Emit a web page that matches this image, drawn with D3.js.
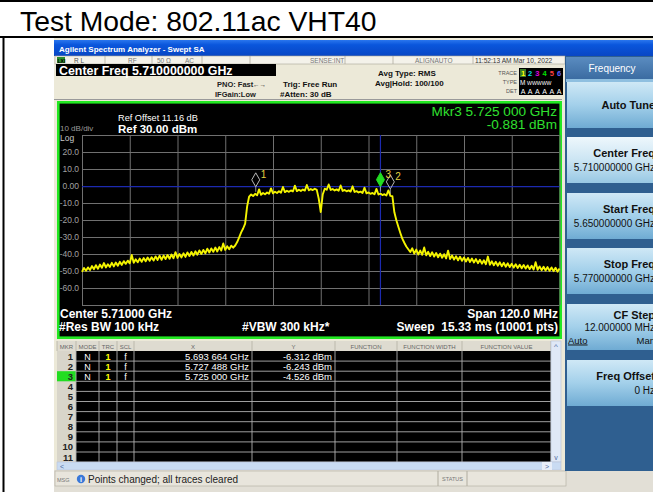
<!DOCTYPE html>
<html><head><meta charset="utf-8">
<script src="https://cdn.jsdelivr.net/npm/d3@7/dist/d3.min.js"></script>
<style>body{margin:0;background:#fff;}svg{display:block;font-family:"Liberation Sans",Arial,sans-serif;}</style>
</head><body><svg id="c" width="653" height="492"></svg>
<script>
// ---------------- data ----------------
const pageTitle = "Test Mode: 802.11ac VHT40";
const startFreqGHz = 5.65, stopFreqGHz = 5.77;
const freqStepMHz = 0.5;
const refLevelDbm = 30, bottomDbm = -70;
const traceDbm = [
 -50.5,-48.2,-49.8,-47.9,-49.4,-47.1,-48.9,-46.6,-48.7,-46.2,
 -48.1,-45.3,-47.9,-46.0,-47.6,-45.2,-47.3,-45.0,-46.9,-44.6,
 -46.4,-44.2,-45.8,-43.9,-45.5,-40.6,-45.2,-43.1,-44.9,-42.7,
 -44.6,-42.4,-44.3,-42.1,-44.0,-41.9,-43.8,-41.4,-43.5,-41.0,
 -43.4,-40.9,-43.0,-40.6,-42.8,-40.3,-42.5,-38.9,-42.3,-40.0,
 -42.0,-39.6,-41.7,-39.1,-41.2,-38.8,-40.9,-38.4,-40.4,-37.9,
 -40.0,-37.6,-39.6,-36.9,-39.1,-36.7,-38.7,-36.2,-38.5,-35.9,
 -38.0,-33.8,-37.6,-35.4,-37.2,-35.1,-36.3,-35.0,-33.0,-30.2,
 -27.3,-25.0,-22.1,-12.0,-6.2,-5.0,-5.9,-4.6,-5.5,-2.0,
 -5.2,-4.1,-4.9,-3.8,-4.6,-1.4,-4.3,-3.4,-4.1,-3.1,
 -3.9,-0.6,-3.6,-2.8,-3.4,-2.6,-3.2,0.2,-3.0,-2.2,
 -2.9,-2.1,-2.7,0.6,-2.5,-1.8,-2.4,-1.6,-2.3,-7.5,
 -15.3,-5.0,-1.6,-2.2,0.9,-2.3,-1.8,-2.6,-2.0,-2.8,
 0.3,-2.9,-2.3,-3.1,-2.6,-3.3,-0.2,-3.5,-3.0,-3.8,
 -3.3,-4.1,-1.0,-4.3,-3.8,-4.6,-4.1,-4.9,-1.7,-5.0,
 -4.5,-5.3,-4.8,-5.6,-2.6,-5.8,-6.0,-15.5,-20.2,-24.0,
 -27.6,-31.0,-33.4,-35.6,-37.2,-38.8,-36.6,-39.8,-37.4,-40.3,
 -38.0,-40.5,-36.2,-40.8,-38.7,-41.2,-39.0,-41.5,-39.4,-41.9,
 -39.8,-42.2,-40.1,-42.6,-38.0,-43.0,-40.9,-43.3,-41.3,-43.7,
 -41.6,-44.0,-42.0,-44.4,-42.3,-44.7,-42.7,-45.0,-43.0,-45.4,
 -43.4,-45.7,-43.7,-46.0,-41.5,-46.3,-44.3,-46.6,-44.6,-46.9,
 -44.9,-47.2,-45.2,-47.5,-45.5,-47.7,-45.8,-48.0,-46.0,-48.2,
 -46.3,-48.4,-46.5,-48.6,-46.7,-48.9,-46.9,-49.1,-44.8,-49.3,
 -47.3,-49.5,-47.5,-49.7,-47.7,-49.9,-47.9,-50.1,-48.1,-50.4,
 -48.5];
const yTickValues = [20,10,0,-10,-20,-30,-40,-50,-60];
const yGridValues = [30,20,10,0,-10,-20,-30,-40,-50,-60,-70];
const xGridValues = [5.650,5.662,5.674,5.686,5.698,5.710,5.722,5.734,5.746,5.758,5.770];
const displayLineDbm = -0.4;
const markerNums = [1,2,3];
const markerFreqGHz = [5.693664,5.727488,5.725000];
const markerDbm = [-6.312,-6.243,-4.526];
const activeMarker = 3;
const activeMarkerReadDbm = -0.881;
const tableRowNums = [1,2,3,4,5,6,7,8,9,10,11];
const softkeyLabels = ["Auto Tune","Center Freq","Start Freq","Stop Freq","CF Step","Freq Offset"];
const softkeyValues = ["","5.710000000 GHz","5.650000000 GHz","5.770000000 GHz","12.000000 MHz","0 Hz"];

// ---------------- helpers ----------------
const W=653,H=492;
const svg=d3.select("#c");
const defs=svg.append("defs");
const hy=s=>s.replace(/\u2212/g,"-");
function grad(id,stops){const g=defs.append("linearGradient").attr("id",id).attr("x1",0).attr("x2",0).attr("y1",0).attr("y2",1);
 stops.forEach(([o,c])=>g.append("stop").attr("offset",o).attr("stop-color",c));}
grad("tb",[[0,"#2a76ee"],[0.3,"#0a56dc"],[1,"#0846c4"]]);
grad("btn",[[0,"#cfe8f6"],[0.5,"#a3d0ea"],[1,"#6fabd3"]]);
grad("btnH",[[0,"#eef7fc"],[0.5,"#cbe5f3"],[1,"#98c8e4"]]);
grad("hdr",[[0,"#5a8cc0"],[1,"#3a6aa0"]]);

function txt(x,y,s,o={}){const t=svg.append("text").attr("x",x).attr("y",y).text(s)
 .attr("font-size",o.size||9).attr("fill",o.fill||"#000").attr("text-anchor",o.anchor||"start").style("white-space","pre");
 if(o.bold)t.attr("font-weight","bold"); if(o.family)t.attr("font-family",o.family); return t;}
function rect(x,y,w,h,fill,stroke,sw){const r=svg.append("rect").attr("x",x).attr("y",y).attr("width",w).attr("height",h).attr("fill",fill);
 if(stroke)r.attr("stroke",stroke).attr("stroke-width",sw||1); return r;}

rect(0,0,W,H,"#fff");
rect(0,0,W,2,"#000");
txt(20,30.5,pageTitle,{size:28.3});
rect(0,36,W,2,"#000");
rect(2.5,36,2,H-36,"#000");

// screenshot background
rect(54,38,W-54,H-38,"#ece9d8");
rect(54,40,W-54,16,"url(#tb)");
txt(59,52,"Agilent Spectrum Analyzer - Swept SA",{size:8,fill:"#fff",bold:true});

// status row
rect(55,56,510,8,"#f4f2ea","#a8a496",0.6);
rect(57,57,8,6,"#2e8b2e");
txt(57.5,62.5,"LXI",{size:5,fill:"#000",bold:true});
[105,152,202,250,345,393,473].forEach(x=>svg.append("line").attr("x1",x).attr("x2",x).attr("y1",56).attr("y2",64).attr("stroke","#a8a496").attr("stroke-width",0.7));
txt(74,62.5,"R L",{size:6.5,fill:"#555"});
txt(128,62.5,"RF",{size:6.5,fill:"#777"});
txt(157,62.5,"50 Ω",{size:6.5,fill:"#777"});
txt(185,62.5,"AC",{size:6.5,fill:"#777"});
txt(310,62.5,"SENSE:INT",{size:6.5,fill:"#777"});
txt(415,62.5,"ALIGNAUTO",{size:6.5,fill:"#777"});
txt(475,62.5,"11:52:13 AM Mar 10, 2022",{size:6.6,fill:"#333"});

// center freq box
rect(56,64,220,12,"#000");
txt(59,75,"Center Freq 5.710000000 GHz",{size:12.4,fill:"#fff",bold:true});
txt(217,87,"PNO: Fast",{size:7.5,fill:"#222",bold:true});
txt(253,87,"←→",{size:6.5,fill:"#222"});
txt(215,97,"IFGain:Low",{size:7.5,fill:"#222",bold:true});
txt(283,87,"Trig: Free Run",{size:8,fill:"#111",bold:true});
txt(280,97,"#Atten: 30 dB",{size:8,fill:"#111",bold:true});
txt(378,76,"Avg Type: RMS",{size:8,fill:"#111",bold:true});
txt(375,86,"Avg|Hold: 100/100",{size:8,fill:"#111",bold:true});
// trace box
txt(517,75,"TRACE",{size:5.5,fill:"#555",anchor:"end"});
txt(517,84,"TYPE",{size:5.5,fill:"#555",anchor:"end"});
txt(517,93,"DET",{size:5.5,fill:"#555",anchor:"end"});
rect(519,68,44,27,"#000");
const trColors=["#ffff00","#00e0e0","#e000e0","#00e000","#ff4040","#6060ff"];
rect(520,69,6,8,"#3a7a2a");
trColors.forEach((c,i)=>txt(523+i*7.2,76,String(i+1),{size:7.5,fill:c,bold:true,anchor:"middle"}));
txt(520,85,"M",{size:6.5,fill:"#fff"});
txt(527,85,"WWWWW",{size:5.2,fill:"#fff"});
["A","A","A","A","A","A"].forEach((a,i)=>txt(523+i*7.2,93.5,a,{size:7,fill:"#fff",anchor:"middle"}));

// ---------------- display ----------------
rect(54,99,508,1,"#9a9a9a");
rect(58.3,102.3,502.4,235.4,"#000","#22e822",2.6);
const x=d3.scaleLinear().domain([startFreqGHz,stopFreqGHz]).range([82,559.5]);
const y=d3.scaleLinear().domain([refLevelDbm,bottomDbm]).range([135,305]);
const plot=svg.append("g");
plot.append("g").attr("transform","translate(0,305)")
 .call(d3.axisBottom(x).tickValues(xGridValues).tickSize(-170).tickFormat(""))
 .call(g=>g.select(".domain").remove())
 .call(g=>g.selectAll(".tick line").attr("stroke","#707070").attr("stroke-width",1));
plot.append("g").attr("transform","translate(82,0)")
 .call(d3.axisLeft(y).tickValues(yGridValues).tickSize(-477.5).tickFormat(""))
 .call(g=>g.select(".domain").remove())
 .call(g=>g.selectAll(".tick line").attr("stroke","#707070").attr("stroke-width",1));
plot.append("g").attr("transform","translate(79,0)")
 .call(d3.axisLeft(y).tickValues(yTickValues).tickSize(0).tickPadding(0).tickFormat(d=>d===0?"0.00":hy(d3.format(".1f")(d))))
 .call(g=>g.select(".domain").remove())
 .call(g=>g.selectAll("text").attr("fill","#a0a0a0").attr("font-size",8.5).attr("font-family","Liberation Sans,Arial"));
// display line & marker line
plot.append("line").attr("x1",82).attr("x2",559.5).attr("y1",y(displayLineDbm)).attr("y2",y(displayLineDbm)).attr("stroke","#1c2ab0").attr("stroke-width",1.2);
const amx=x(markerFreqGHz[markerNums.indexOf(activeMarker)]);
plot.append("line").attr("x1",amx).attr("x2",amx).attr("y1",135).attr("y2",305).attr("stroke","#1c2ab0").attr("stroke-width",1.2);

// trace
const line=d3.line().x((d,i)=>x(startFreqGHz+i*freqStepMHz/1000)).y(d=>y(d));
plot.append("path").datum(traceDbm).attr("d",line).attr("fill","none").attr("stroke","#f4f400").attr("stroke-width",1.9).attr("stroke-linejoin","round");

// markers
markerNums.forEach((m,k)=>{
 const f=markerFreqGHz[k];
 const idx=Math.round((f-startFreqGHz)*1000/freqStepMHz);
 const ty=y(traceDbm[idx]);
 const mx=x(f), my=ty-14;
 const act=m===activeMarker;
 plot.append("path").attr("d",`M${mx},${my-7}L${mx+4},${my}L${mx},${my+7}L${mx-4},${my}Z`)
  .attr("fill",act?"#22dd22":"none").attr("stroke",act?"#22dd22":"#b8b8b8").attr("stroke-width",1);
 plot.append("line").attr("x1",mx).attr("x2",mx).attr("y1",my+7).attr("y2",ty-2).attr("stroke","#b8b8b8").attr("stroke-width",0.8);
 txt(mx+5,my-2,String(m),{size:10,fill:"#e0d040"});
});

// display annotations
txt(118,121,"Ref Offset 11.16 dB",{size:9.2,fill:"#fff"});
txt(118,132.5,"Ref 30.00 dBm",{size:11.5,fill:"#fff",bold:true});
txt(60,131,"10 dB/div",{size:8,fill:"#9a9a9a"});
txt(60,141,"Log",{size:8.5,fill:"#c8c8c8"});
txt(557,115.5,`Mkr${activeMarker} ${d3.format(".3f")(markerFreqGHz[2])} 000 GHz`,{size:13.6,fill:"#30e030",anchor:"end"});
txt(557,129,hy(`${d3.format(".3f")(activeMarkerReadDbm)} dBm`),{size:13.6,fill:"#30e030",anchor:"end"});
txt(60,318,"Center 5.71000 GHz",{size:12,fill:"#fff",bold:true});
txt(59,330.5,"#Res BW 100 kHz",{size:12,fill:"#fff",bold:true});
txt(242,330.5,"#VBW 300 kHz*",{size:12,fill:"#fff",bold:true});
txt(558,318,"Span 120.0 MHz",{size:12,fill:"#fff",bold:true,anchor:"end"});
txt(558,330.5,"Sweep  15.33 ms (10001 pts)",{size:12,fill:"#fff",bold:true,anchor:"end"});

// ---------------- marker table ----------------
const colX=[57,76,99,117,134,252,335,397,462,551];
const colHdr=["MKR","MODE","TRC","SCL","X","Y","FUNCTION","FUNCTION WIDTH","FUNCTION VALUE"];
rect(57,341,494,10,"#dedbd0");
colHdr.forEach((h,i)=>txt((colX[i]+colX[i+1])/2,349,h,{size:6,fill:"#666",anchor:"middle"}));
colX.forEach(cx=>svg.append("line").attr("x1",cx).attr("x2",cx).attr("y1",341).attr("y2",351).attr("stroke","#b0ac9f").attr("stroke-width",0.7));
rect(57,351,494,111,"#000");
rect(57,351,19,111,"#d8d5ca");
tableRowNums.forEach((n,i)=>{
 const ry=351+i*10.1;
 if(n===activeMarker) rect(57,ry,19,10.1,"#22dd22");
 txt(73,ry+8.5,String(n),{size:9.5,fill:"#222",bold:true,anchor:"end"});
 svg.append("line").attr("x1",76).attr("x2",551).attr("y1",ry+10.1).attr("y2",ry+10.1).attr("stroke","#b0b0b0").attr("stroke-width",0.9);
 const k=markerNums.indexOf(n);
 if(k>=0){
  txt(87.5,ry+8.5,"N",{size:9,fill:"#fff",anchor:"middle"});
  txt(108,ry+8.5,"1",{size:9,fill:"#ffff00",anchor:"middle",bold:true});
  txt(125.5,ry+8.5,"f",{size:9,fill:"#fff",anchor:"middle"});
  const fs=d3.format(".6f")(markerFreqGHz[k]);
  txt(249,ry+8.5,`${fs.slice(0,5)} ${fs.slice(5)} GHz`,{size:9.5,fill:"#fff",anchor:"end"});
  txt(332,ry+8.5,hy(`${d3.format(".3f")(markerDbm[k])} dBm`),{size:9.5,fill:"#fff",anchor:"end"});
 }
});
colX.slice(1).forEach(cx=>svg.append("line").attr("x1",cx).attr("x2",cx).attr("y1",351).attr("y2",462).attr("stroke","#b0b0b0").attr("stroke-width",0.9));
// scrollbars
rect(551,341,10,121,"#dfe8f6","#b8c4d8",0.6);
txt(556,349,"^",{size:8,fill:"#4a6aa0",anchor:"middle"});
txt(556,460,"v",{size:7,fill:"#4a6aa0",anchor:"middle"});
rect(57,462,504,8,"#c9dbf2","#b8c4d8",0.6);
txt(60,469,"<",{size:7,fill:"#4a6aa0"});
rect(542,462,10,8,"#e8eef8");
txt(545,469,">",{size:7,fill:"#4a6aa0"});

// message bar
rect(54,470,W-54,22,"#e2dfd6");
rect(55,471,511,15,"#e8e5dc","#b0ac9f",0.6);
txt(57,482,"MSG",{size:5.5,fill:"#777"});
svg.append("circle").attr("cx",81).attr("cy",479).attr("r",4.2).attr("fill","#3a78d8");
txt(81,482,"i",{size:7,fill:"#fff",anchor:"middle",bold:true});
txt(88,483,"Points changed; all traces cleared",{size:10,fill:"#222"});
svg.append("line").attr("x1",438).attr("x2",438).attr("y1",471).attr("y2",486).attr("stroke","#b0ac9f");
svg.append("line").attr("x1",467).attr("x2",467).attr("y1",471).attr("y2",486).attr("stroke","#b0ac9f");
txt(452.5,481,"STATUS",{size:5.5,fill:"#777",anchor:"middle"});

// ---------------- softkey panel ----------------
rect(565,56,88,415,"#2f5f90");
rect(566,57,87,23,"url(#hdr)");
rect(566,79,87,3,"#8fbfe0");
txt(612,72,"Frequency",{size:10,fill:"#fff",anchor:"middle"});
const keyTops=[82,137,193,248,304,360];
softkeyLabels.forEach((lab,i)=>{
 const t=keyTops[i];
 rect(567,t,88,46,i===1?"url(#btnH)":"url(#btn)");
 if(i===0){txt(655,109,lab,{size:11,bold:true,fill:"#111",anchor:"end"});}
 else if(i===4){
  txt(655,319,lab,{size:11,bold:true,fill:"#111",anchor:"end"});
  txt(655,331,softkeyValues[i],{size:10,fill:"#111",anchor:"end"});
  txt(568,343.5,"Auto",{size:9.5,fill:"#111"}).attr("text-decoration","underline");
  txt(655,343.5,"Man",{size:9.5,fill:"#111",anchor:"end"});
 } else {
  txt(655,t+20,lab,{size:11,bold:true,fill:"#111",anchor:"end"});
  txt(655,t+34,softkeyValues[i],{size:10,fill:"#111",anchor:"end"});
 }
});
</script></body></html>
